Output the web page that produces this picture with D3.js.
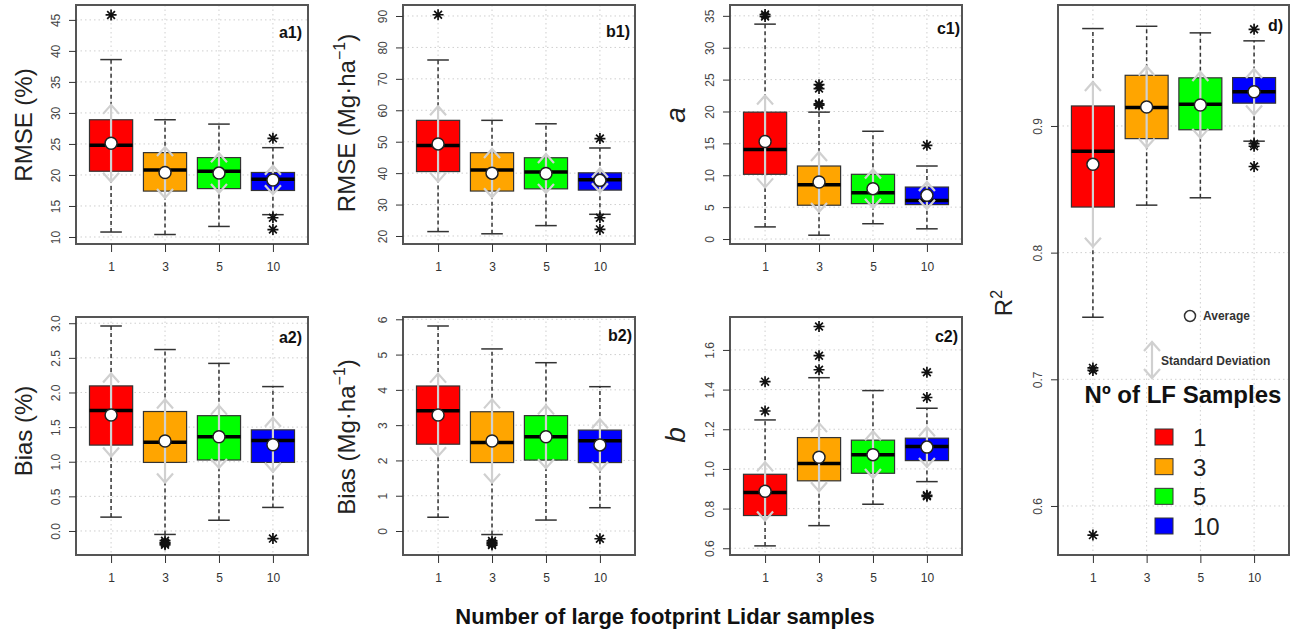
<!DOCTYPE html>
<html>
<head>
<meta charset="utf-8">
<script src="https://cdn.jsdelivr.net/npm/d3@7"></script>
<style>
body { margin: 0; background: #fff; }
text { font-family: "Liberation Sans", Arial, sans-serif; }
</style>
</head>
<body>
<svg id="chart" width="1296" height="632"></svg>
<script>
// categories (number of large footprint samples)
const categories = ["1", "3", "5", "10"];
const boxColors = ["#ff0000", "#ffa500", "#00ff00", "#0000ff"];

// box stats: [lower whisker, Q1, median, Q3, upper whisker]
// a1) RMSE (%)
const rmsePctBox = [[10.8, 20.6, 24.8, 28.9, 38.6], [10.4, 17.4, 20.8, 23.6, 28.9], [11.7, 17.8, 20.6, 22.8, 28.2], [13.6, 17.5, 19.3, 20.4, 24.4]];
const rmsePctMean = [25.1, 20.4, 20.3, 19.2];
const rmsePctSd = [6.2, 4.1, 3.2, 2.3];
const rmsePctOut = [[45.8], [], [], [25.9, 13.1, 11.2]];

// b1) RMSE (Mg/ha)
const rmseAbsBox = [[21.4, 40.5, 48.8, 56.8, 76.0], [20.7, 34.3, 41.0, 46.5, 56.8], [23.3, 35.0, 40.4, 44.9, 55.7], [26.9, 34.6, 37.9, 40.1, 48.0]];
const rmseAbsMean = [49.3, 40.0, 39.9, 37.7];
const rmseAbsSd = [12.0, 7.7, 6.2, 3.8];
const rmseAbsOut = [[90.4], [], [], [51.0, 25.8, 22.1]];

// c1) a
const aBox = [[1.9, 10.15, 14.05, 19.9, 33.7], [0.6, 5.3, 8.5, 11.45, 19.9], [2.4, 5.55, 7.25, 10.15, 16.9], [1.6, 5.4, 6.05, 8.15, 11.45]];
const aMean = [15.3, 8.95, 7.9, 6.85];
const aSd = [7.2, 4.7, 3.0, 2.1];
const aOut = [[34.9, 35.2], [24.2, 23.6, 21.2, 21.0], [], [14.7]];

// a2) Bias (%)
const biasPctBox = [[0.2, 1.24, 1.74, 2.095, 2.96], [-0.05, 0.99, 1.28, 1.725, 2.62], [0.155, 1.025, 1.36, 1.665, 2.42], [0.34, 0.99, 1.305, 1.46, 2.085]];
const biasPctMean = [1.675, 1.3, 1.36, 1.245];
const biasPctSd = [0.6, 0.6, 0.45, 0.39];
const biasPctOut = [[], [-0.14, -0.17, -0.2, -0.18], [], [-0.11]];

// b2) Bias (Mg/ha)
const biasAbsBox = [[0.39, 2.46, 3.41, 4.11, 5.81], [-0.1, 1.94, 2.51, 3.38, 5.16], [0.31, 2.01, 2.67, 3.27, 4.77], [0.66, 1.94, 2.56, 2.86, 4.09]];
const biasAbsMean = [3.29, 2.55, 2.67, 2.44];
const biasAbsSd = [1.17, 1.18, 0.89, 0.73];
const biasAbsOut = [[], [-0.28, -0.33, -0.4, -0.36], [], [-0.22]];

// c2) b
const bBox = [[0.612, 0.765, 0.881, 0.973, 1.247], [0.714, 0.94, 1.027, 1.158, 1.46], [0.822, 0.978, 1.072, 1.145, 1.395], [0.936, 1.042, 1.113, 1.155, 1.306]];
const bMean = [0.887, 1.059, 1.072, 1.11];
const bSd = [0.147, 0.172, 0.118, 0.1];
const bOut = [[1.292, 1.44], [1.5, 1.571, 1.718], [], [1.487, 1.36, 0.867, 0.862]];

// d) R2
const r2Box = [[0.749, 0.836, 0.88, 0.9158, 0.9769], [0.8375, 0.89, 0.9145, 0.94, 0.9787], [0.8433, 0.897, 0.9172, 0.938, 0.9735], [0.888, 0.918, 0.9271, 0.9382, 0.9672]];
const r2Mean = [0.8697, 0.915, 0.9166, 0.927];
const r2Sd = [0.065, 0.032, 0.026, 0.018];
const r2Out = [[0.709, 0.707, 0.577], [], [], [0.9763, 0.886, 0.884, 0.868]];

// y tick values
const rmsePctTicks = [10, 15, 20, 25, 30, 35, 40, 45];
const rmseAbsTicks = [20, 30, 40, 50, 60, 70, 80, 90];
const aTicks = [0, 5, 10, 15, 20, 25, 30, 35];
const biasPctTicks = [0, 0.5, 1, 1.5, 2, 2.5, 3];
const biasAbsTicks = [0, 1, 2, 3, 4, 5, 6];
const bTicks = [0.6, 0.8, 1.0, 1.2, 1.4, 1.6];
const r2Ticks = [0.6, 0.7, 0.8, 0.9];

const legendLabels = ["1", "3", "5", "10"];

const panels = [
  { box: rmsePctBox, mean: rmsePctMean, sd: rmsePctSd, out: rmsePctOut, ticks: rmsePctTicks, fmt: d3.format("d"),
    x0: 76, y0: 5, w: 232, h: 239, domain: [8.87, 47.4], tag: "a1)", tagX: 302, tagY: 38,
    title: ["RMSE (%)"], titleX: 23, titleY: 125, italic: false },
  { box: rmseAbsBox, mean: rmseAbsMean, sd: rmseAbsSd, out: rmseAbsOut, ticks: rmseAbsTicks, fmt: d3.format("d"),
    x0: 403, y0: 5, w: 232, h: 239, domain: [17.45, 93.5], tag: "b1)", tagX: 630, tagY: 37,
    title: ["RMSE (Mg\u00b7ha", "\u22121", ")"], titleX: 346, titleY: 123, italic: false },
  { box: aBox, mean: aMean, sd: aSd, out: aOut, ticks: aTicks, fmt: d3.format("d"),
    x0: 730, y0: 5, w: 232, h: 239, domain: [-0.78, 36.7], tag: "c1)", tagX: 960, tagY: 34,
    title: ["a"], titleX: 675, titleY: 115, italic: true },
  { box: biasPctBox, mean: biasPctMean, sd: biasPctSd, out: biasPctOut, ticks: biasPctTicks, fmt: d3.format(".1f"),
    x0: 76, y0: 317, w: 232, h: 238, domain: [-0.347, 3.09], tag: "a2)", tagX: 302, tagY: 343,
    title: ["Bias (%)"], titleX: 23, titleY: 431, italic: false },
  { box: biasAbsBox, mean: biasAbsMean, sd: biasAbsSd, out: biasAbsOut, ticks: biasAbsTicks, fmt: d3.format("d"),
    x0: 403, y0: 317, w: 232, h: 238, domain: [-0.68, 6.065], tag: "b2)", tagX: 632, tagY: 341,
    title: ["Bias (Mg\u00b7ha", "\u22121", ")"], titleX: 346, titleY: 437, italic: false },
  { box: bBox, mean: bMean, sd: bSd, out: bOut, ticks: bTicks, fmt: d3.format(".1f"),
    x0: 730, y0: 317, w: 232, h: 238, domain: [0.566, 1.766], tag: "c2)", tagX: 958, tagY: 342,
    title: ["b"], titleX: 675, titleY: 435, italic: true },
  { box: r2Box, mean: r2Mean, sd: r2Sd, out: r2Out, ticks: r2Ticks, fmt: d3.format(".1f"),
    x0: 1058, y0: 5, w: 231, h: 550, domain: [0.5613, 0.9955], tag: "d)", tagX: 1283, tagY: 31,
    title: ["R", "2"], titleX: 1003, titleY: 303, italic: false }
];

const svg = d3.select("#chart");

function asterisk(r) {
  const k = r * Math.SQRT1_2;
  return `M${-r},0L${r},0M0,${-r}L0,${r}M${-k},${-k}L${k},${k}M${-k},${k}L${k},${-k}`;
}

function sdArrow(cx, yTop, yBot) {
  const dx = 8, dy = 9;
  return `M${cx},${yTop}L${cx},${yBot}` +
    `M${cx - dx},${yTop + dy}L${cx},${yTop}L${cx + dx},${yTop + dy}` +
    `M${cx - dx},${yBot - dy}L${cx},${yBot}L${cx + dx},${yBot - dy}`;
}

panels.forEach(p => {
  const g = svg.append("g");
  const x = d3.scaleLinear().domain([0.35, 4.65]).range([p.x0, p.x0 + p.w]);
  const y = d3.scaleLinear().domain(p.domain).range([p.y0 + p.h, p.y0]);
  const half = x(1.4) - x(1);
  const capHalf = half / 2;
  const idx = d3.range(categories.length);

  // grid
  g.selectAll(".hgrid").data(p.ticks).enter().append("line")
    .attr("x1", p.x0).attr("x2", p.x0 + p.w)
    .attr("y1", d => y(d)).attr("y2", d => y(d))
    .attr("stroke", "#cfcfcf").attr("stroke-dasharray", "1.5,3");
  g.selectAll(".vgrid").data(idx).enter().append("line")
    .attr("x1", i => x(i + 1)).attr("x2", i => x(i + 1))
    .attr("y1", p.y0).attr("y2", p.y0 + p.h)
    .attr("stroke", "#cfcfcf").attr("stroke-dasharray", "1.5,3");

  // whiskers
  g.selectAll(".wlo").data(idx).enter().append("line")
    .attr("x1", i => x(i + 1)).attr("x2", i => x(i + 1))
    .attr("y1", i => y(p.box[i][0])).attr("y2", i => y(p.box[i][1]))
    .attr("stroke", "#333").attr("stroke-width", 1.5).attr("stroke-dasharray", "4,3");
  g.selectAll(".whi").data(idx).enter().append("line")
    .attr("x1", i => x(i + 1)).attr("x2", i => x(i + 1))
    .attr("y1", i => y(p.box[i][3])).attr("y2", i => y(p.box[i][4]))
    .attr("stroke", "#333").attr("stroke-width", 1.5).attr("stroke-dasharray", "4,3");
  [0, 4].forEach(k => {
    g.selectAll(".cap" + k).data(idx).enter().append("line")
      .attr("x1", i => x(i + 1) - capHalf).attr("x2", i => x(i + 1) + capHalf)
      .attr("y1", i => y(p.box[i][k])).attr("y2", i => y(p.box[i][k]))
      .attr("stroke", "#333").attr("stroke-width", 1.5);
  });

  // boxes
  g.selectAll(".box").data(idx).enter().append("rect")
    .attr("x", i => x(i + 1) - half).attr("width", half * 2)
    .attr("y", i => y(p.box[i][3])).attr("height", i => y(p.box[i][1]) - y(p.box[i][3]))
    .attr("fill", i => boxColors[i]).attr("stroke", "#333").attr("stroke-width", 1.2);
  g.selectAll(".med").data(idx).enter().append("line")
    .attr("x1", i => x(i + 1) - half).attr("x2", i => x(i + 1) + half)
    .attr("y1", i => y(p.box[i][2])).attr("y2", i => y(p.box[i][2]))
    .attr("stroke", "#000").attr("stroke-width", 3.5);

  // sd arrows
  g.selectAll(".sd").data(idx).enter().append("path")
    .attr("d", i => sdArrow(x(i + 1), y(p.mean[i] + p.sd[i]), y(p.mean[i] - p.sd[i])))
    .attr("fill", "none").attr("stroke", "#d0d0d0").attr("stroke-width", 2.2);

  // means
  g.selectAll(".mean").data(idx).enter().append("circle")
    .attr("cx", i => x(i + 1)).attr("cy", i => y(p.mean[i])).attr("r", 6)
    .attr("fill", "#fff").attr("stroke", "#222").attr("stroke-width", 1.5);

  // outliers
  const outs = [];
  p.out.forEach((arr, i) => arr.forEach(v => outs.push([i, v])));
  g.selectAll(".out").data(outs).enter().append("path")
    .attr("transform", d => `translate(${x(d[0] + 1)},${y(d[1])})`)
    .attr("d", asterisk(5.5)).attr("stroke", "#111").attr("stroke-width", 1.7).attr("fill", "none");

  // frame
  g.append("rect").attr("x", p.x0).attr("y", p.y0).attr("width", p.w).attr("height", p.h)
    .attr("fill", "none").attr("stroke", "#555").attr("stroke-width", 2);

  // y axis
  const ya = g.append("g").attr("transform", `translate(${p.x0},0)`)
    .call(d3.axisLeft(y).tickValues(p.ticks).tickFormat(p.fmt).tickSize(7));
  ya.select(".domain").remove();
  ya.selectAll(".tick line").attr("stroke", "#333");
  ya.selectAll(".tick text")
    .attr("transform", "rotate(-90)").attr("x", 0).attr("y", -16).attr("dy", 0)
    .attr("text-anchor", "middle").attr("fill", "#444")
    .style("font-size", "12px").style("font-family", "'Liberation Sans', Arial, sans-serif");

  // x axis
  const xa = g.append("g").attr("transform", `translate(0,${p.y0 + p.h})`)
    .call(d3.axisBottom(x).tickValues([1, 2, 3, 4]).tickFormat((d, i) => categories[i]).tickSize(8));
  xa.select(".domain").remove();
  xa.selectAll(".tick line").attr("stroke", "#333");
  xa.selectAll(".tick text").attr("y", 18).attr("fill", "#333")
    .style("font-size", "12px").style("font-family", "'Liberation Sans', Arial, sans-serif");

  // panel tag
  g.append("text").attr("x", p.tagX).attr("y", p.tagY).attr("text-anchor", "end")
    .attr("font-weight", "bold").attr("font-size", 16).attr("fill", "#111").text(p.tag);

  // y title
  const t = g.append("text")
    .attr("transform", `translate(${p.titleX},${p.titleY}) rotate(-90)`)
    .attr("text-anchor", "middle").attr("dy", "0.36em")
    .attr("font-size", p.italic ? 28 : 24).attr("fill", "#222")
    .attr("font-style", p.italic ? "italic" : null);
  t.append("tspan").text(p.title[0]);
  if (p.title.length > 1) {
    t.append("tspan").attr("dy", -10).attr("font-size", 16).text(p.title[1]);
    if (p.title[2]) t.append("tspan").attr("dy", 10).text(p.title[2]);
  }
});

// legend in panel d
const lg = svg.append("g");
lg.append("circle").attr("cx", 1190).attr("cy", 316).attr("r", 5.5)
  .attr("fill", "#fff").attr("stroke", "#333").attr("stroke-width", 1.5);
lg.append("text").attr("x", 1203).attr("y", 320).attr("font-size", 12).attr("font-weight", "bold")
  .attr("fill", "#333").text("Average");
lg.append("path").attr("d", sdArrow(1152, 342, 378)).attr("fill", "none")
  .attr("stroke", "#d0d0d0").attr("stroke-width", 2.2);
lg.append("text").attr("x", 1161).attr("y", 365).attr("font-size", 12).attr("font-weight", "bold")
  .attr("fill", "#333").text("Standard Deviation");
lg.append("text").attr("x", 1183).attr("y", 403).attr("text-anchor", "middle")
  .attr("font-size", 24).attr("font-weight", "bold").attr("fill", "#111").text("N\u00ba of LF Samples");
const ly = d3.scalePoint().domain(legendLabels).range([437, 526]);
lg.selectAll(".lbox").data(legendLabels).enter().append("rect")
  .attr("x", 1155).attr("y", d => ly(d) - 8).attr("width", 18).attr("height", 16)
  .attr("fill", (d, i) => boxColors[i]).attr("stroke", "#333");
lg.selectAll(".ltxt").data(legendLabels).enter().append("text")
  .attr("x", 1193).attr("y", d => ly(d) + 9).attr("font-size", 24).attr("fill", "#222").text(d => d);

// common x title
svg.append("text").attr("x", 665).attr("y", 624).attr("text-anchor", "middle")
  .attr("font-size", 22).attr("font-weight", "bold").attr("fill", "#111")
  .text("Number of large footprint Lidar samples");
</script>
</body>
</html>
